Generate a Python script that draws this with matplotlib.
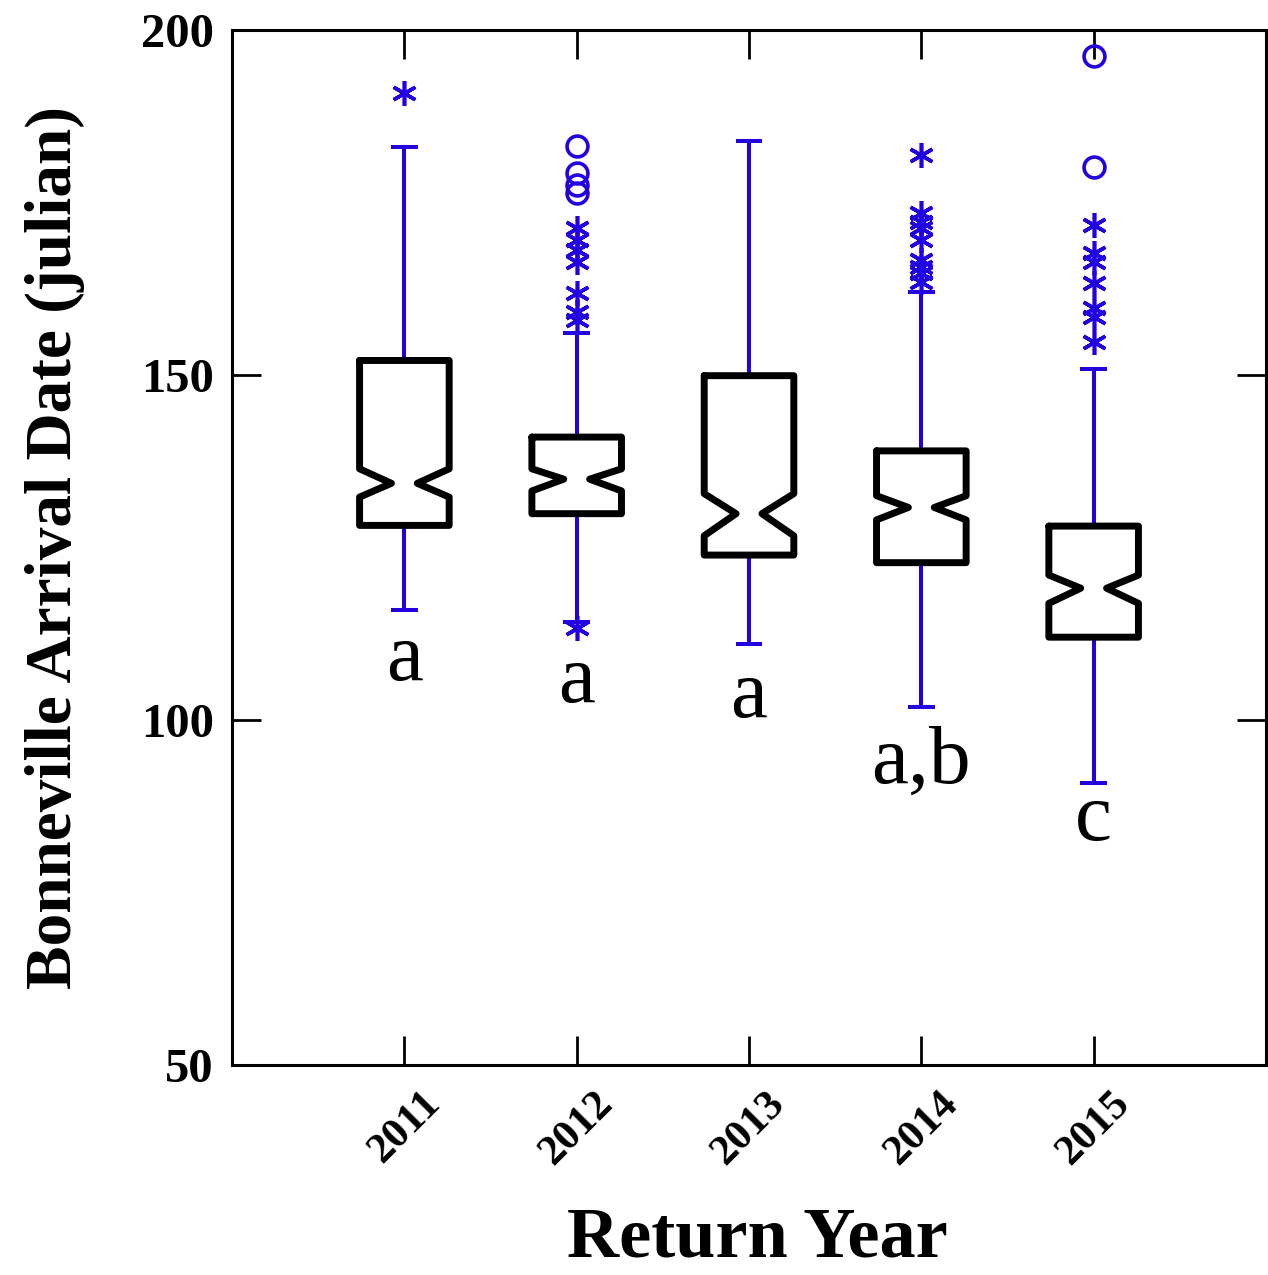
import numpy as np
import matplotlib
matplotlib.use("Agg")
import matplotlib.pyplot as plt

# Arrival dates (julian day) by return year, notched box summaries
years = ["2011", "2012", "2013", "2014", "2015"]
q1 = [128.2, 129.9, 123.9, 122.8, 112.0]
med = [134.3, 134.9, 129.9, 130.8, 119.1]
q3 = [152.1, 141.0, 149.9, 139.0, 128.1]
notch_lo = [132.3, 133.2, 126.7, 129.0, 116.9]
notch_hi = [136.4, 136.4, 132.8, 132.5, 121.0]
whisk_lo = [115.9, 114.2, 111.0, 101.9, 90.9]
whisk_hi = [183.0, 156.1, 183.9, 162.0, 150.9]

# outside values (asterisks) and far-outside values (circles)
outside = [
    [190.9],
    [171.3, 169.6, 168.1, 166.4, 161.9, 159.1, 158.0, 113.3],
    [],
    [181.9, 173.5, 172.2, 171.3, 169.6, 166.7, 165.7, 164.8, 163.5],
    [171.7, 167.7, 166.4, 163.3, 159.7, 158.4, 154.8],
]
far_outside = [
    [],
    [183.2, 179.3, 177.5, 176.4],
    [],
    [],
    [196.2, 180.1],
]

# significance groupings and their baseline heights
groups = ["a", "a", "a", "a,b", "c"]
group_y = [105.8, 102.6, 100.4, 90.9, 82.6]

BLUE = "#2200e0"
SERIF = "Liberation Serif"

fig = plt.figure(figsize=(12.68, 12.75), dpi=100)
ax = fig.add_axes([0.183, 0.1647, 0.8154, 0.8118])

hw = 0.26     # half box width
wv = 0.075    # half width at the notch waist
cap = 0.065   # half width of whisker caps

for i in range(len(years)):
    x = i + 1
    # whiskers
    ax.plot([x, x], [q3[i], whisk_hi[i]], color=BLUE, lw=2.9, zorder=2)
    ax.plot([x, x], [q1[i], whisk_lo[i]], color=BLUE, lw=2.9, zorder=2)
    ax.plot([x - cap, x + cap], [whisk_hi[i]] * 2, color=BLUE, lw=2.9, zorder=2)
    ax.plot([x - cap, x + cap], [whisk_lo[i]] * 2, color=BLUE, lw=2.9, zorder=2)

    # notched box
    xs = [x - hw, x + hw, x + hw, x + wv, x + hw, x + hw,
          x - hw, x - hw, x - wv, x - hw, x - hw]
    ys = [q3[i], q3[i], notch_hi[i], med[i], notch_lo[i], q1[i],
          q1[i], notch_lo[i], med[i], notch_hi[i], q3[i]]
    ax.fill(xs, ys, color="white", zorder=3)
    ax.plot(xs, ys, color="black", lw=5, solid_joinstyle="round",
            solid_capstyle="round", zorder=4)

    # outliers
    if outside[i]:
        ax.plot([x] * len(outside[i]), outside[i], ls="none",
                marker=(6, 2, 0), ms=18, mew=2.6, color=BLUE, zorder=5)
    if far_outside[i]:
        ax.plot([x] * len(far_outside[i]), far_outside[i], ls="none",
                marker="o", ms=15, mew=2.6, mfc="none", mec=BLUE,
                zorder=5, clip_on=False)

    ax.text(x, group_y[i], groups[i], ha="center", va="baseline",
            fontsize=60, family=SERIF)

ax.set_xlim(0, 6)
ax.set_ylim(50, 200)
ax.set_xticks(range(1, len(years) + 1))
ax.set_xticklabels(years, rotation=45, ha="center", va="top",
                   fontsize=31, fontweight="bold", family=SERIF)
ax.set_yticks([50, 100, 150, 200])
ax.set_yticklabels(["50", "100", "150", "200"], fontsize=35,
                   fontweight="bold", family=SERIF)

ax.tick_params(direction="in", length=21, width=2, top=True, right=True)
ax.tick_params(axis="y", pad=13)
ax.tick_params(axis="x", pad=14)
for s in ax.spines.values():
    s.set_linewidth(2.2)

ax.set_xlabel("Return Year", fontsize=52, fontweight="bold", family=SERIF,
              labelpad=24)
ax.xaxis.set_label_coords(0.508, -0.137)
ax.set_ylabel("Bonneville Arrival Date (julian)", fontsize=47,
              fontweight="bold", family=SERIF, labelpad=40)

fig.savefig("out.png", dpi=100)
